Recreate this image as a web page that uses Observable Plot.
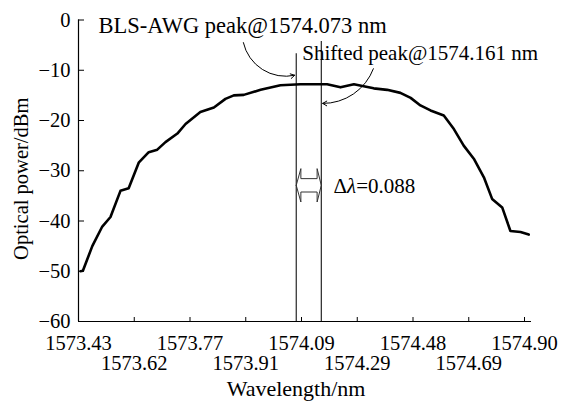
<!DOCTYPE html>
<html>
<head>
<meta charset="utf-8">
<script src="https://cdn.jsdelivr.net/npm/d3@7"></script>
<script src="https://cdn.jsdelivr.net/npm/@observablehq/plot@0.6"></script>
<style>
  html, body { margin: 0; padding: 0; background: #fff; }
  svg { display: block; }
</style>
</head>
<body>
<div id="chart"></div>
<script>
// ---- data ----
const tickWavelengths = [1573.43, 1573.62, 1573.77, 1573.91, 1574.09, 1574.29, 1574.48, 1574.69, 1574.90];
const tickLabels = ["1573.43", "1573.62", "1573.77", "1573.91", "1574.09", "1574.29", "1574.48", "1574.69", "1574.90"];
const yTicks = [0, -10, -20, -30, -40, -50, -60];

const wavelength = [1573.437, 1573.445, 1573.477, 1573.511, 1573.539, 1573.573, 1573.601, 1573.632, 1573.659, 1573.682,
  1573.704, 1573.736, 1573.758, 1573.796, 1573.830, 1573.859, 1573.880, 1573.905, 1573.958, 1574.022,
  1574.087, 1574.182, 1574.230, 1574.278, 1574.312, 1574.346, 1574.392, 1574.437, 1574.472, 1574.508,
  1574.546, 1574.596, 1574.634, 1574.671, 1574.709, 1574.747, 1574.778, 1574.816, 1574.847, 1574.885, 1574.916];
const power = [-50.0, -49.9, -45.0, -41.1, -39.2, -34.0, -33.5, -28.4, -26.3, -25.8,
  -24.3, -22.6, -20.7, -18.3, -17.4, -15.7, -15.0, -14.9, -13.9, -13.0,
  -12.8, -12.8, -13.4, -12.8, -13.2, -13.6, -13.9, -14.5, -15.5, -17.0,
  -18.0, -19.0, -21.7, -25.0, -27.6, -31.3, -35.6, -37.3, -42.0, -42.2, -42.7];

const peakWavelengths = [1574.073, 1574.161];
const peakLineTops = [-6.7, -4.3];
const deltaLambda = 0.088;

const labelTexts = ["BLS-AWG peak@1574.073 nm", "Shifted peak@1574.161 nm"];
const labelX = [1573.498, 1574.093];
const labelY = [-1.15, -6.7];
const labelSizes = [22.5, 21];
const deltaLabel = "Δλ=0.088";
const deltaLabelPos = [1574.205, -33.0];
const blsArrow = {x1: 1573.904, y1: -4.5, x2: 1574.068, y2: -11.0};
const shiftedArrow = {x1: 1574.345, y1: -9.7, x2: 1574.166, y2: -16.6};
const doubleArrowY = -32.9;

// ---- layout ----
const W = 568, H = 401;
const mL = 78, mR = 37, mT = 19.5, mB = 80;
const tickStep = 55.75;
const xRange = tickWavelengths.map((_, i) => mL + i * tickStep);
const font = "'Liberation Serif', 'Times New Roman', serif";
const fs = 20.5;
const frameCx = (mL + W - mR) / 2;

const fmtX = d => tickLabels[tickWavelengths.indexOf(d)] ?? "";
const evenTicks = tickWavelengths.filter((_, i) => i % 2 === 0);
const oddTicks = tickWavelengths.filter((_, i) => i % 2 === 1);

// hollow double arrow outline between the two peak lines
const [pA, pB] = peakWavelengths;
const gap = pB - pA;
const hx = 0.17 * gap;
const hh = 3.32, sh = 1.33;
const dArrow = [
  [pA, doubleArrowY], [pA + hx, doubleArrowY + hh], [pA + hx, doubleArrowY + sh],
  [pB - hx, doubleArrowY + sh], [pB - hx, doubleArrowY + hh], [pB, doubleArrowY],
  [pB - hx, doubleArrowY - hh], [pB - hx, doubleArrowY - sh], [pA + hx, doubleArrowY - sh],
  [pA + hx, doubleArrowY - hh], [pA, doubleArrowY]
];

const idx = d3.range(wavelength.length);

const plot = Plot.plot({
  width: W,
  height: H,
  marginLeft: mL,
  marginRight: mR,
  marginTop: mT,
  marginBottom: mB,
  style: {fontFamily: font, fontSize: fs + "px", background: "#fff", color: "#000", overflow: "visible"},
  x: {type: "linear", domain: tickWavelengths, range: xRange},
  y: {domain: [-60, 0]},
  marks: [
    // axis lines
    Plot.ruleX([tickWavelengths[0]], {stroke: "#000", strokeWidth: 1.2}),
    Plot.ruleY([-60], {stroke: "#000", strokeWidth: 1.2}),
    // y axis
    Plot.axisY({ticks: yTicks, tickSize: -6, text: null, label: null, strokeWidth: 1}),
    Plot.axisY({ticks: yTicks, tickSize: 0, tickPadding: 8, label: null, fontSize: fs,
      tickFormat: d => d === 0 ? "0" : "\u2212" + Math.abs(d)}),
    // x axis
    Plot.axisX({ticks: tickWavelengths, tickSize: -4, text: null, label: null, strokeWidth: 1}),
    Plot.axisX({ticks: evenTicks, tickSize: 0, tickPadding: 14.4, label: null, fontSize: fs, tickFormat: fmtX}),
    Plot.axisX({ticks: oddTicks, tickSize: 0, tickPadding: 34.4, label: null, fontSize: fs, tickFormat: fmtX}),
    // axis titles
    Plot.text(["Optical power/dBm"], {frameAnchor: "middle", dx: 21 - frameCx, dy: 8, rotate: -90,
      textAnchor: "middle", lineAnchor: "middle", fontSize: fs, fill: "#000"}),
    Plot.text(["Wavelength/nm"], {frameAnchor: "bottom", dx: -9, dy: 67,
      textAnchor: "middle", lineAnchor: "middle", fontSize: 22, fill: "#000"}),
    // peak lines
    Plot.ruleX(peakWavelengths, {x: d => d, y1: -60, y2: (d, i) => peakLineTops[i], stroke: "#111", strokeWidth: 1.1}),
    // spectrum
    Plot.line(idx, {x: i => wavelength[i], y: i => power[i], stroke: "#000", strokeWidth: 2.6, curve: "linear"}),
    // double arrow
    Plot.line(dArrow, {x: d => d[0], y: d => d[1], stroke: "#333", strokeWidth: 1}),
    // annotation arrows
    Plot.arrow([blsArrow], {x1: "x1", y1: "y1", x2: "x2", y2: "y2", bend: -45, headLength: 7, stroke: "#000", strokeWidth: 1}),
    Plot.arrow([shiftedArrow], {x1: "x1", y1: "y1", x2: "x2", y2: "y2", bend: 35, headLength: 7, stroke: "#000", strokeWidth: 1}),
    // annotation texts
    Plot.text(labelTexts, {x: (d, i) => labelX[i], y: (d, i) => labelY[i], text: d => d,
      fontSize: (d, i) => labelSizes[i],
      textAnchor: "start", lineAnchor: "middle", fill: "#000"}),
    Plot.text([deltaLabel], {x: deltaLabelPos[0], y: deltaLabelPos[1], text: d => d,
      textAnchor: "start", lineAnchor: "middle", fontSize: 21, fill: "#000"})
  ]
});

// italic lambda in the Δλ label
d3.select(plot).selectAll("text").filter(function () { return this.textContent === deltaLabel; })
  .each(function () {
    const t = d3.select(this);
    t.text(null);
    t.append("tspan").text("Δ");
    t.append("tspan").attr("font-style", "italic").text("λ");
    t.append("tspan").text("=" + deltaLambda.toFixed(3));
  });

document.getElementById("chart").appendChild(plot);
</script>
</body>
</html>
